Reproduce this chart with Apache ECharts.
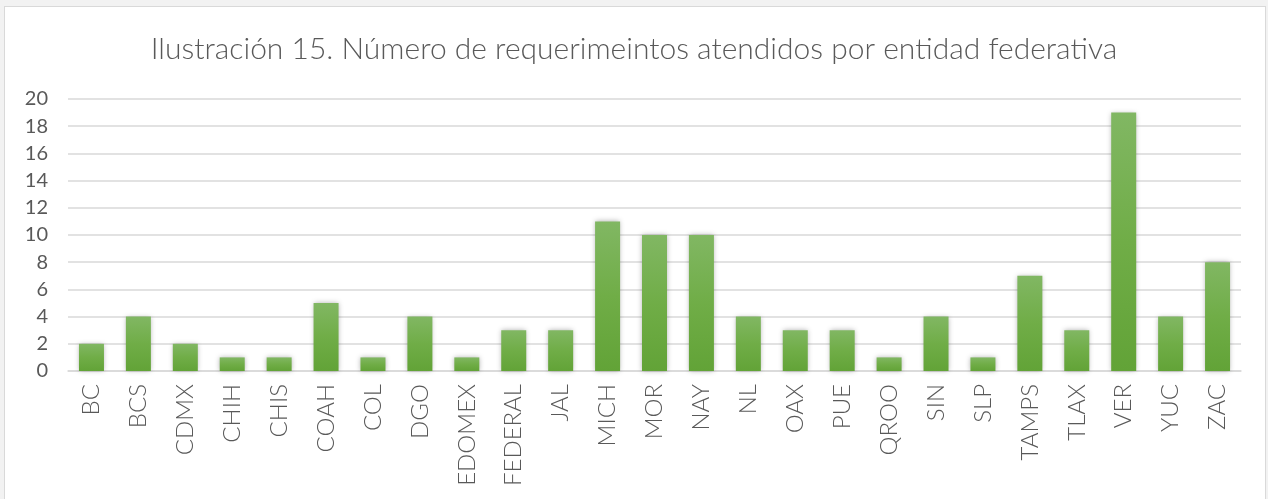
<!DOCTYPE html>
<html><head><meta charset="utf-8">
<script src="https://cdn.jsdelivr.net/npm/echarts@6/dist/echarts.min.js"></script>
<style>
html,body{margin:0;padding:0;background:#f2f2f2;}
#frame{position:absolute;left:4px;top:6px;width:1262px;height:499px;background:#fff;border:1px solid #d9d9d9;box-sizing:border-box;}
#c{position:absolute;left:0;top:0;width:1268px;height:499px;}
</style></head>
<body>
<div id="frame"></div>
<div id="c"></div>
<script>
const titleText = 'Ilustración 15. Número de requerimeintos atendidos por entidad federativa';
const categories = ['BC','BCS','CDMX','CHIH','CHIS','COAH','COL','DGO','EDOMEX','FEDERAL','JAL','MICH','MOR','NAY','NL','OAX','PUE','QROO','SIN','SLP','TAMPS','TLAX','VER','YUC','ZAC'];
const values = [2,4,2,1,1,5,1,4,1,3,3,11,10,10,4,3,3,1,4,1,7,3,19,4,8];
const yTicks = {min:0, max:20, interval:2};

const chart = echarts.init(document.getElementById('c'), null, {renderer:'canvas'});
chart.setOption({
  animation:false,
  title:{text:titleText,left:'center',top:29,textStyle:{fontFamily:'Lato',fontWeight:300,fontSize:30,color:'#595959'}},
  grid:{left:68,right:27,top:99,bottom:128,containLabel:false},
  xAxis:{type:'category',data:categories,
    axisLine:{lineStyle:{color:'#d9d9d9',width:1.5}},
    axisTick:{show:false},
    axisLabel:{rotate:90,interval:0,fontFamily:'Lato',fontWeight:300,fontSize:24,color:'#595959',margin:13}},
  yAxis:{type:'value',min:yTicks.min,max:yTicks.max,interval:yTicks.interval,
    axisLine:{show:false},axisTick:{show:false},
    splitLine:{lineStyle:{color:'#d9d9d9',width:1.5}},
    axisLabel:{fontFamily:'Lato',fontSize:20,color:'#595959',margin:20}},
  series:[{type:'bar',data:values,barWidth:25,
    itemStyle:{color:new echarts.graphic.LinearGradient(0,0,0,1,[{offset:0,color:'#81b763'},{offset:0.5,color:'#70ad47'},{offset:1,color:'#62a337'}]),
      shadowColor:'rgba(0,0,0,0.3)',shadowBlur:5}}]
});
</script>
</body></html>
